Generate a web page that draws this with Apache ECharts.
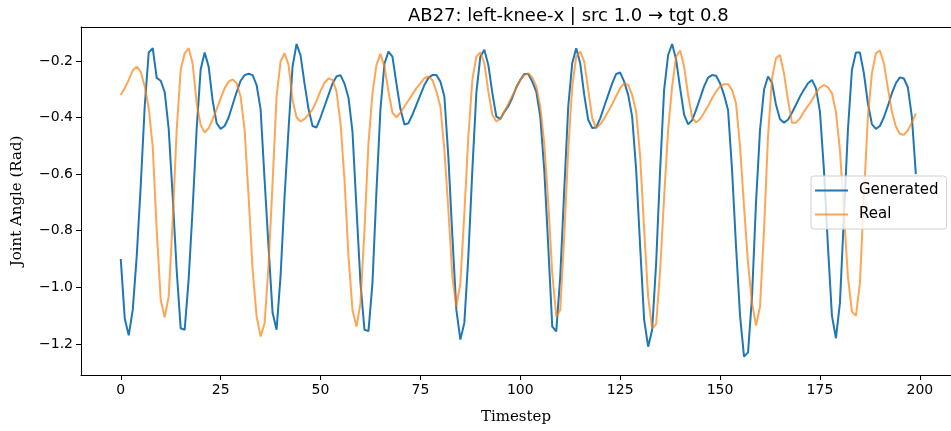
<!DOCTYPE html>
<html>
<head>
<meta charset="utf-8">
<script src="https://cdn.jsdelivr.net/npm/echarts/dist/echarts.min.js"></script>
<style>
  html, body { margin: 0; padding: 0; background: #fff; }
  #main { width: 951px; height: 431px; }
</style>
</head>
<body>
<div id="main"></div>
<script>
  // values, one per timestep (0..199)
  let generated = [
    -0.90, -1.11, -1.17, -1.08, -0.89, -0.64, -0.36, -0.17, -0.155, -0.26,
    -0.27, -0.31, -0.44, -0.68, -0.94, -1.145, -1.15, -0.97, -0.72, -0.44,
    -0.23, -0.17, -0.22, -0.34, -0.42, -0.44, -0.43, -0.40, -0.355, -0.31,
    -0.27, -0.25, -0.245, -0.25, -0.285, -0.37, -0.62, -0.86, -1.09, -1.15,
    -0.96, -0.68, -0.44, -0.22, -0.14, -0.18, -0.28, -0.37, -0.43, -0.435,
    -0.40, -0.36, -0.32, -0.28, -0.255, -0.25, -0.28, -0.33, -0.45, -0.72,
    -0.985, -1.15, -1.155, -0.985, -0.66, -0.37, -0.21, -0.167, -0.185, -0.28,
    -0.37, -0.425, -0.42, -0.39, -0.355, -0.32, -0.285, -0.26, -0.25, -0.25,
    -0.273, -0.326, -0.54, -0.82, -1.08, -1.185, -1.125, -0.89, -0.585, -0.313,
    -0.185, -0.16, -0.214, -0.313, -0.397, -0.405, -0.38, -0.36, -0.33, -0.293,
    -0.267, -0.246, -0.246, -0.273, -0.308, -0.397, -0.585, -0.856, -1.139, -1.156,
    -0.962, -0.656, -0.361, -0.208, -0.155, -0.208, -0.32, -0.408, -0.437, -0.435,
    -0.403, -0.361, -0.32, -0.279, -0.246, -0.241, -0.273, -0.32, -0.397, -0.585,
    -0.856, -1.115, -1.21, -1.15, -0.915, -0.585, -0.302, -0.179, -0.14, -0.195,
    -0.296, -0.39, -0.424, -0.41, -0.373, -0.332, -0.29, -0.259, -0.25, -0.252,
    -0.279, -0.32, -0.373, -0.585, -0.856, -1.10, -1.245, -1.23, -1.033, -0.70,
    -0.444, -0.302, -0.255, -0.277, -0.355, -0.406, -0.418, -0.408, -0.383, -0.355,
    -0.326, -0.302, -0.279, -0.267, -0.296, -0.379, -0.585, -0.856, -1.10, -1.18,
    -1.056, -0.75, -0.444, -0.232, -0.17, -0.17, -0.244, -0.35, -0.423, -0.44,
    -0.43, -0.399, -0.359, -0.314, -0.279, -0.258, -0.262, -0.293, -0.397, -0.60
  ]

  let real = [
    -0.32, -0.296, -0.267, -0.234, -0.22, -0.238, -0.29, -0.367, -0.503, -0.797,
    -1.045, -1.106, -1.033, -0.762, -0.444, -0.232, -0.173, -0.155, -0.21, -0.35,
    -0.426, -0.453, -0.438, -0.406, -0.371, -0.332, -0.296, -0.273, -0.265, -0.279,
    -0.326, -0.444, -0.68, -0.938, -1.103, -1.174, -1.127, -0.92, -0.63, -0.326,
    -0.202, -0.173, -0.214, -0.338, -0.399, -0.414, -0.405, -0.39, -0.371, -0.341,
    -0.306, -0.277, -0.262, -0.267, -0.308, -0.42, -0.62, -0.89, -1.08, -1.139,
    -1.056, -0.797, -0.491, -0.314, -0.214, -0.175, -0.22, -0.308, -0.383, -0.399,
    -0.383, -0.361, -0.34, -0.318, -0.296, -0.279, -0.261, -0.255, -0.267, -0.308,
    -0.361, -0.514, -0.727, -0.962, -1.068, -0.985, -0.738, -0.467, -0.267, -0.185,
    -0.17, -0.208, -0.308, -0.39, -0.414, -0.405, -0.379, -0.352, -0.324, -0.296,
    -0.267, -0.25, -0.244, -0.258, -0.29, -0.361, -0.491, -0.703, -0.95, -1.103,
    -1.08, -0.82, -0.514, -0.29, -0.185, -0.167, -0.202, -0.302, -0.403, -0.437,
    -0.424, -0.403, -0.379, -0.352, -0.324, -0.296, -0.279, -0.285, -0.32, -0.379,
    -0.538, -0.797, -1.033, -1.145, -1.13, -0.94, -0.68, -0.444, -0.29, -0.185,
    -0.163, -0.22, -0.32, -0.399, -0.418, -0.405, -0.383, -0.359, -0.332, -0.308,
    -0.29, -0.282, -0.282, -0.302, -0.35, -0.503, -0.715, -0.915, -1.056, -1.135,
    -1.068, -0.797, -0.467, -0.261, -0.19, -0.179, -0.244, -0.338, -0.418, -0.418,
    -0.403, -0.379, -0.359, -0.338, -0.314, -0.294, -0.285, -0.293, -0.314, -0.38,
    -0.514, -0.738, -0.962, -1.086, -1.101, -0.985, -0.68, -0.397, -0.244, -0.173,
    -0.163, -0.208, -0.296, -0.379, -0.432, -0.458, -0.461, -0.446, -0.418, -0.385
  ]

  let xTicks = [0, 25, 50, 75, 100, 125, 150, 175, 200]
  let yTicks = [-1.2, -1.0, -0.8, -0.6, -0.4, -0.2]

  let timesteps = generated.map((v, i) => i)
  let pairs = (arr) => arr.map((v, i) => [timesteps[i], v])

  let fmtY = (v) => (v < 0 ? '\u2212' : '') + Math.abs(v).toFixed(1)

  let chart = echarts.init(document.getElementById('main'), null, { renderer: 'canvas' })

  // the reference is cropped on the right, so the x range stops where the picture does
  let xMin = -9.95
  let xMax = 207.8
  let yMin = -1.31
  let yMax = -0.08

  let option = {
    animation: false,
    backgroundColor: '#fff',
    title: {
      text: 'AB27: left-knee-x | src 1.0 \u2192 tgt 0.8',
      left: 403,
      top: 2,
      textStyle: {
        fontFamily: 'DejaVu Sans',
        fontSize: 18,
        fontWeight: 'normal',
        color: '#000'
      }
    },
    legend: {
      data: ['Generated', 'Real'],
      orient: 'vertical',
      left: 811,
      top: 176,
      padding: [7, 8, 7, 4],
      itemGap: 9,
      icon: 'rect',
      itemWidth: 33,
      itemHeight: 2,
      backgroundColor: 'rgba(255,255,255,0.8)',
      borderColor: '#d0d0d0',
      borderWidth: 1,
      borderRadius: 3,
      textStyle: {
        fontFamily: 'DejaVu Sans',
        fontSize: 15,
        lineHeight: 15,
        color: '#000',
        padding: [0, 0, 0, 6]
      }
    },
    grid: {
      left: 81,
      top: 27,
      right: 0,
      height: 348
    },
    xAxis: [
      {
        type: 'value',
        position: 'bottom',
        min: xMin,
        max: xMax,
        name: 'Timestep',
        nameLocation: 'middle',
        nameGap: 35,
        nameTextStyle: { fontFamily: 'DejaVu Serif', fontSize: 15, color: '#000' },
        axisLine: { show: true, onZero: false, lineStyle: { color: '#000', width: 1 } },
        axisTick: { show: true, length: 5, customValues: xTicks, lineStyle: { color: '#000' } },
        axisLabel: {
          customValues: xTicks,
          color: '#000',
          fontFamily: 'DejaVu Sans',
          fontSize: 14,
          margin: 8
        },
        splitLine: { show: false }
      },
      {
        type: 'value',
        position: 'top',
        min: xMin,
        max: xMax,
        axisLine: { show: true, onZero: false, lineStyle: { color: '#000', width: 1 } },
        axisTick: { show: false },
        axisLabel: { show: false },
        splitLine: { show: false }
      }
    ],
    yAxis: {
      type: 'value',
      position: 'left',
      min: yMin,
      max: yMax,
      name: 'Joint Angle (Rad)',
      nameLocation: 'middle',
      nameGap: 56,
      nameTextStyle: { fontFamily: 'DejaVu Serif', fontSize: 15, color: '#000' },
      axisLine: { show: true, onZero: false, lineStyle: { color: '#000', width: 1 } },
      axisTick: { show: true, length: 5, customValues: yTicks, lineStyle: { color: '#000' } },
      axisLabel: {
        customValues: yTicks,
        formatter: fmtY,
        color: '#000',
        fontFamily: 'DejaVu Sans',
        fontSize: 14,
        margin: 8
      },
      splitLine: { show: false }
    },
    series: [
      {
        name: 'Generated',
        type: 'line',
        data: pairs(generated),
        symbol: 'none',
        color: '#1f77b4',
        lineStyle: { width: 2, color: '#1f77b4' }
      },
      {
        name: 'Real',
        type: 'line',
        data: pairs(real),
        symbol: 'none',
        color: 'rgba(255,127,14,0.7)',
        lineStyle: { width: 2, color: 'rgba(255,127,14,0.7)' }
      }
    ]
  }

  chart.setOption(option)
</script>
</body>
</html>
